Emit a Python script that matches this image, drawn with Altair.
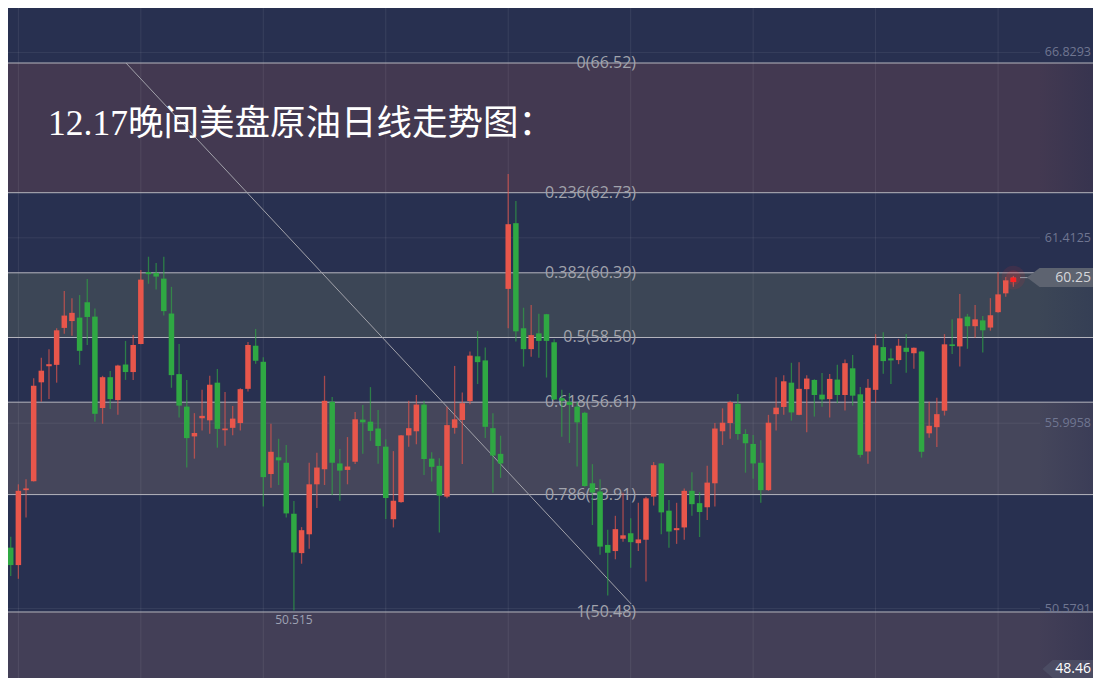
import altair as alt
import pandas as pd

# ---------------- data ----------------
opens = [52.36, 51.85, 54.04, 54.30, 57.19, 57.66, 57.70, 58.78, 58.98, 59.08,
         59.53, 59.11, 56.44, 57.34, 56.67, 57.71, 57.49, 58.31, 60.41, 60.39,
         60.22, 59.20, 57.43, 56.48, 55.61, 56.14, 56.08, 57.18, 55.79, 55.86,
         56.00, 57.00, 58.26, 57.79, 54.51, 55.00, 54.84, 53.35, 52.20, 52.75,
         54.21, 54.65, 56.62, 54.82, 54.63, 54.87, 56.10, 56.04, 55.84, 55.31,
         53.19, 53.69, 55.64, 55.76, 56.54, 54.96, 54.75, 53.85, 55.86, 56.09,
         56.64, 57.95, 57.83, 55.85, 55.10, 59.92, 61.84, 58.77, 58.16, 58.62,
         59.18, 58.36, 56.73, 56.62, 56.48, 56.30, 54.24, 54.00, 52.44, 52.26,
         52.62, 52.78, 52.49, 52.59, 53.85, 54.82, 53.44, 52.87, 52.95, 54.02,
         53.66, 53.54, 54.24, 55.76, 56.00, 56.56, 55.68, 55.39, 54.84, 54.04,
         56.26, 56.47, 57.18, 56.24, 56.99, 57.26, 56.83, 56.70, 57.27, 56.82,
         57.60, 56.84, 55.17, 56.97, 58.22, 57.89, 57.84, 58.20, 58.04, 58.09,
         55.70, 55.88, 56.36, 58.30, 58.24, 59.11, 58.83, 59.00, 58.79, 59.24,
         59.79, 60.12]
highs = [52.68, 54.21, 54.36, 57.31, 57.91, 58.16, 58.77, 59.86, 59.65, 59.74,
         60.21, 59.35, 57.38, 57.52, 57.70, 58.40, 58.57, 60.47, 60.86, 60.68,
         60.86, 59.98, 58.31, 57.26, 56.29, 56.97, 57.38, 57.58, 56.91, 56.50,
         57.02, 58.37, 58.75, 57.92, 55.98, 55.54, 55.36, 53.72, 52.96, 54.84,
         55.13, 57.38, 56.76, 55.24, 55.59, 56.32, 56.53, 57.05, 56.38, 55.53,
         55.18, 55.65, 56.65, 56.82, 56.65, 55.15, 54.97, 56.48, 57.67, 56.89,
         58.09, 58.69, 58.21, 56.29, 55.63, 63.28, 62.49, 59.37, 59.45, 59.19,
         59.19, 58.45, 56.97, 56.88, 56.62, 56.33, 54.80, 54.36, 52.88, 53.29,
         53.96, 53.22, 53.67, 53.85, 54.86, 54.83, 53.75, 53.67, 54.09, 54.56,
         53.98, 54.75, 56.00, 56.43, 56.65, 56.85, 55.82, 55.65, 55.50, 56.24,
         57.34, 57.40, 57.76, 57.78, 57.40, 57.28, 57.46, 57.43, 57.70, 57.86,
         57.99, 57.05, 57.29, 58.60, 58.65, 58.18, 58.46, 58.60, 58.21, 58.11,
         56.62, 56.74, 58.60, 59.03, 59.77, 59.19, 59.45, 59.13, 59.65, 60.41,
         60.27, 60.30]
lows = [51.53, 51.45, 53.24, 54.29, 56.62, 56.70, 57.18, 58.61, 58.55, 57.70,
        58.28, 56.04, 55.98, 56.41, 56.24, 57.26, 57.26, 58.30, 60.07, 59.90,
        59.14, 57.03, 56.16, 54.70, 54.96, 55.78, 55.69, 55.28, 55.34, 55.64,
        55.78, 56.92, 57.73, 53.56, 54.11, 54.19, 53.24, 50.52, 51.89, 52.33,
        53.52, 54.19, 53.90, 53.73, 54.21, 54.80, 55.10, 55.48, 54.81, 53.20,
        52.95, 53.67, 55.31, 55.38, 54.48, 54.29, 52.80, 53.80, 55.69, 54.80,
        56.55, 57.14, 55.56, 53.96, 54.40, 58.77, 58.38, 57.65, 57.94, 57.91,
        57.33, 56.67, 55.60, 55.42, 54.73, 54.14, 53.02, 52.15, 50.96, 52.02,
        52.53, 51.77, 52.26, 51.37, 53.59, 52.75, 52.36, 52.47, 52.59, 53.29,
        52.67, 53.17, 53.56, 55.36, 55.54, 55.51, 54.55, 54.37, 53.67, 54.02,
        55.78, 56.24, 56.07, 56.23, 55.73, 56.19, 56.48, 56.16, 56.58, 56.37,
        56.51, 54.99, 54.81, 56.59, 57.44, 57.14, 57.72, 57.47, 57.59, 54.99,
        55.57, 55.30, 56.22, 58.02, 57.65, 58.17, 58.49, 58.06, 58.70, 59.22,
        59.69, 59.98]
closes = [51.85, 54.02, 54.09, 57.09, 57.53, 57.72, 58.71, 59.14, 59.22, 58.11,
          59.10, 56.27, 57.34, 56.70, 57.68, 57.49, 58.28, 60.19, 60.35, 60.28,
          59.27, 57.40, 56.51, 55.56, 55.71, 56.21, 57.12, 55.83, 55.84, 56.13,
          56.99, 58.28, 57.82, 54.42, 55.16, 54.91, 53.36, 52.22, 52.87, 54.21,
          54.70, 56.65, 54.84, 54.61, 54.73, 56.11, 56.02, 55.77, 55.33, 53.81,
          53.73, 55.64, 55.85, 56.54, 54.95, 54.72, 53.88, 55.94, 56.11, 56.58,
          57.97, 57.78, 55.89, 55.05, 54.82, 61.81, 58.68, 58.16, 58.57, 58.40,
          58.40, 56.69, 56.65, 56.53, 56.02, 54.16, 53.97, 52.39, 52.21, 52.90,
          52.72, 52.52, 52.60, 53.80, 54.77, 53.39, 52.83, 52.93, 54.02, 53.63,
          53.40, 54.26, 55.84, 56.01, 56.61, 55.68, 55.41, 54.82, 54.04, 56.01,
          56.45, 57.22, 56.31, 57.00, 57.30, 56.82, 56.69, 57.29, 56.82, 57.75,
          56.80, 55.07, 57.03, 58.27, 57.81, 57.83, 58.26, 58.08, 58.20, 55.16,
          55.92, 56.26, 58.30, 58.25, 59.06, 58.83, 59.03, 58.71, 59.15, 59.76,
          60.17, 60.25]

fib_ratios = ["0", "0.236", "0.382", "0.5", "0.618", "0.786", "1"]
fib_prices = [66.52, 62.73, 60.39, 58.50, 56.61, 53.91, 50.48]

axis_values = [66.8293, 61.4125, 55.9958, 50.5791]
axis_labels = ["66.8293", "61.4125", "55.9958", "50.5791"]
grid_days = [1, 17, 33, 49, 65, 81, 97, 113, 129]

trend_idx = [15.06, 81.08]
trend_price = [66.52, 50.71]

last_price = 60.25
bottom_price = 48.46
low_idx, low_price = 37, 50.515

title_text = "12.17晚间美盘原油日线走势图："

# ---------------- layout ----------------
W, H = 1085, 670
Y_MIN, Y_MAX = 48.551, 68.127
xs = alt.Scale(domain=[0.298, 140.75], nice=False, zero=False)
ys = alt.Scale(domain=[Y_MIN, Y_MAX], nice=False, zero=False)


def X(f, **kw):
    return alt.X(f, scale=xs, axis=None, **kw)


def Y(f, **kw):
    return alt.Y(f, scale=ys, axis=None, **kw)


one = pd.DataFrame({"k": [0]})

n = len(opens)
df = pd.DataFrame({"idx": list(range(n)), "open": opens, "high": highs,
                   "low": lows, "close": closes})
df["dir"] = ["up" if c >= o else "down" for o, c in zip(opens, closes)]
col = alt.Color("dir:N", scale=alt.Scale(domain=["up", "down"],
                                         range=["#e8564b", "#2fa843"]), legend=None)

layers = []

# fib bands (with a soft darkening toward the right edge)
band_tops = [fib_prices[0], fib_prices[2], fib_prices[4], fib_prices[6]]
band_bottoms = [fib_prices[1], fib_prices[3], fib_prices[5], Y_MIN]
band_colors = ["#433951", "#3c4656", "#45465b", "#433f57"]
band_edge = ["#37344f", "#353f55", "#3b3d57", "#393853"]
for t, b, c, e in zip(band_tops, band_bottoms, band_colors, band_edge):
    bd = pd.DataFrame({"top": [t], "bottom": [b]})
    layers.append(alt.Chart(bd).mark_rect(color=c).encode(
        x=alt.value(0), x2=alt.value(1030), y=Y("top:Q"), y2="bottom:Q"))
    grad = alt.LinearGradient(gradient="linear", x1=0, x2=1, y1=0, y2=0,
                              stops=[alt.GradientStop(color=c, offset=0),
                                     alt.GradientStop(color=e, offset=1)])
    layers.append(alt.Chart(bd).mark_rect(color=grad).encode(
        x=alt.value(1030), x2=alt.value(W), y=Y("top:Q"), y2="bottom:Q"))

# grid
gh = pd.DataFrame({"v": axis_values, "lab": axis_labels})
layers.append(alt.Chart(gh).mark_rule(color="#ffffff", opacity=0.07).encode(
    y=Y("v:Q"), x=alt.value(0), x2=alt.value(1032)))
gv = pd.DataFrame({"d": grid_days})
layers.append(alt.Chart(gv).mark_rule(color="#ffffff", opacity=0.08).encode(
    x=X("d:Q"), y=alt.value(0), y2=alt.value(H)))

# fib lines
fd = pd.DataFrame({"p": fib_prices,
                   "label": [f"{r}({p:.2f})" for r, p in zip(fib_ratios, fib_prices)]})
layers.append(alt.Chart(fd).mark_rule(color="#b6b6be", strokeWidth=1).encode(
    y=Y("p:Q"), x=alt.value(0), x2=alt.value(W)))

# trend line
td = pd.DataFrame({"i": trend_idx, "p": trend_price})
layers.append(alt.Chart(td).mark_line(color="#a2a2aa", strokeWidth=1).encode(
    x=X("i:Q"), y=Y("p:Q")))

# fib labels
layers.append(alt.Chart(fd).mark_text(align="right", baseline="middle", font="Open Sans",
                                      fontSize=16, color="#a1a3ac").encode(
    x=alt.value(628), y=Y("p:Q"), text="label:N"))

# glow on last candle
last = df.iloc[[n - 1]]
layers.append(alt.Chart(last).mark_circle(color="#ff3030", opacity=0.10, size=560).encode(
    x=X("idx:Q"), y=Y("close:Q")))
layers.append(alt.Chart(last).mark_circle(color="#ff3030", opacity=0.15, size=220).encode(
    x=X("idx:Q"), y=Y("close:Q")))

# candles
base = alt.Chart(df)
layers.append(base.mark_rule(strokeWidth=1.3, opacity=0.65).encode(
    x=X("idx:Q"), y=Y("low:Q"), y2="high:Q", color=col))
layers.append(base.mark_bar(size=5.5).encode(
    x=X("idx:Q"), y=Y("open:Q"), y2="close:Q", color=col))
layers.append(alt.Chart(last).mark_bar(size=5.5, color="#ff2222").encode(
    x=X("idx:Q"), y=Y("open:Q"), y2="close:Q"))

# price tag 60.25
layers.append(alt.Chart(one).mark_rule(color="#9a9ca6", strokeWidth=1).encode(
    x=alt.value(1012), x2=alt.value(1022), y=alt.Y(datum=last_price, scale=ys, axis=None)))
layers.append(alt.Chart(one).mark_point(
    shape="M-1,0L-0.66,-0.257L1,-0.257L1,0.257L-0.66,0.257Z", size=5476, filled=True,
    color="#5d6370", opacity=1, strokeWidth=0).encode(
    x=alt.value(1056), y=alt.Y(datum=last_price, scale=ys, axis=None)))
layers.append(alt.Chart(one).mark_text(align="right", baseline="middle", font="Open Sans",
                                       fontSize=14, color="#d5d6da").encode(
    x=alt.value(1083), y=alt.Y(datum=last_price, scale=ys, axis=None),
    text=alt.value(f"{last_price:.2f}")))

# bottom tag 48.46 (kept inside the drawing at its lower edge)
layers.append(alt.Chart(one).mark_point(
    shape="M-1,0L-0.6,-0.353L1,-0.353L1,0.353L-0.6,0.353Z", size=2601, filled=True,
    color="#4b4c63", opacity=1, strokeWidth=0).encode(
    x=alt.value(1060), y=alt.value(H - 9)))
layers.append(alt.Chart(one).mark_text(align="right", baseline="middle", font="Open Sans",
                                       fontSize=14, color="#ffffff").encode(
    x=alt.value(1083), y=alt.value(H - 9),
    text=alt.value(f"{bottom_price:.2f}")))

# right axis labels
layers.append(alt.Chart(gh).mark_text(align="right", baseline="middle", font="Open Sans",
                                      fontSize=12.5, color="#707691").encode(
    x=alt.value(1083), y=Y("v:Q"), text="lab:N"))

# low marker
layers.append(alt.Chart(one).mark_text(align="center", baseline="middle", font="Open Sans",
                                       fontSize=12, color="#9ea2b4", dy=9).encode(
    x=alt.X(datum=low_idx, scale=xs, axis=None),
    y=alt.Y(datum=low_price, scale=ys, axis=None),
    text=alt.value(f"{low_price:.3f}")))

# title
layers.append(alt.Chart(one).mark_text(align="left", baseline="alphabetic",
                                       font="Liberation Serif, Noto Sans CJK SC",
                                       fontSize=35.5, color="#ffffff").encode(
    x=alt.value(40), y=alt.value(127), text=alt.value(title_text)))

chart = alt.layer(*layers).properties(
    width=W, height=H, background="#283050", padding=0,
    autosize=alt.AutoSizeParams(type="none")
).configure_view(stroke=None)

chart.save("out.html", embed_options={"renderer": "svg", "actions": False})
